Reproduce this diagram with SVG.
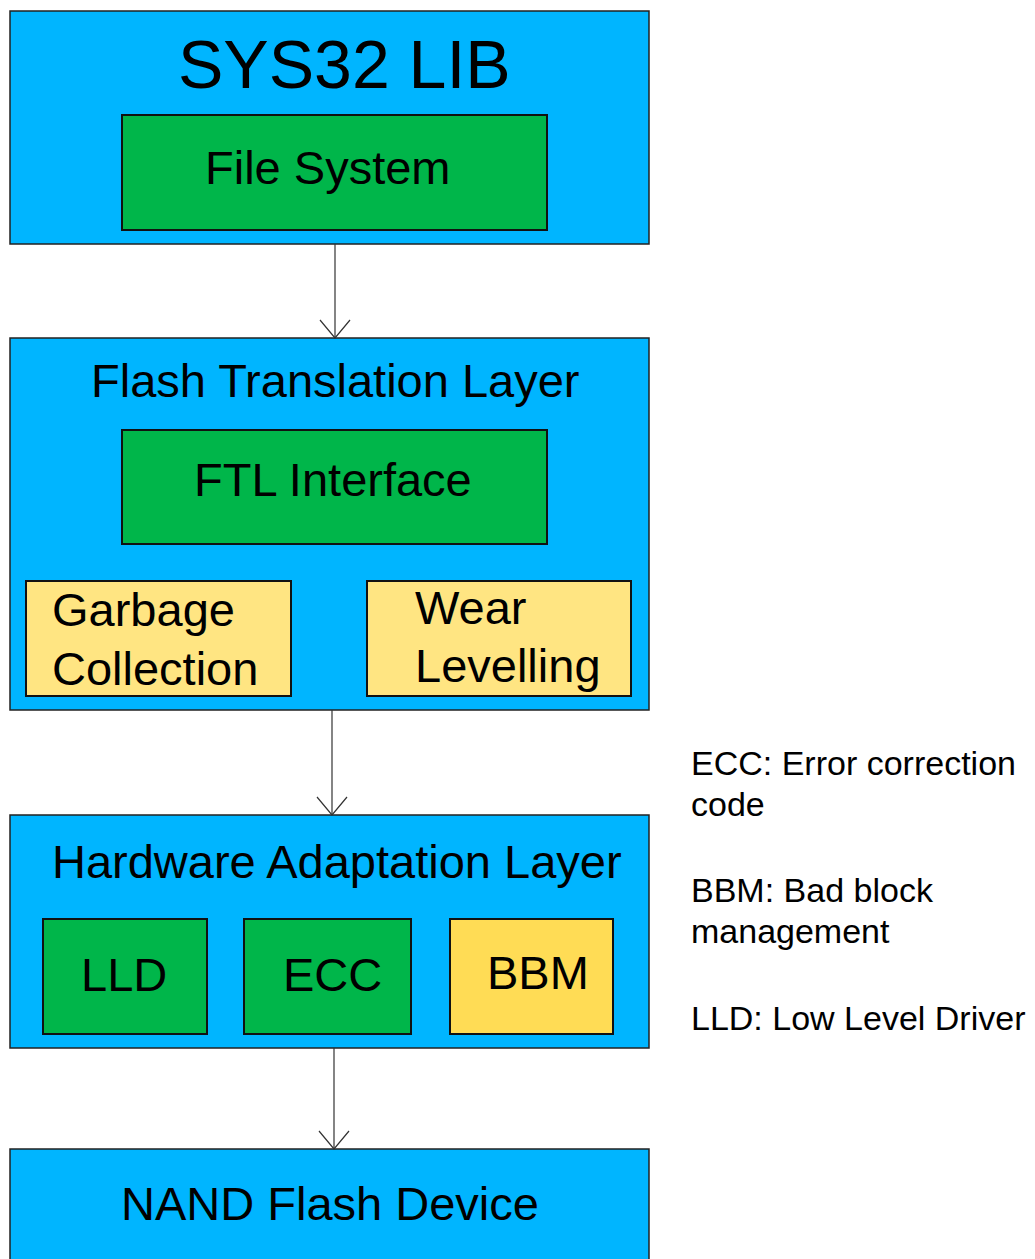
<svg xmlns="http://www.w3.org/2000/svg" width="1035" height="1259" viewBox="0 0 1035 1259">
  <style>
    .layer { fill: #00B5FF; stroke: #222; stroke-width: 1.5; }
    .green { fill: #00B64A; stroke: #111; stroke-width: 2; }
    .pale { fill: #FFE582; stroke: #111; stroke-width: 2; }
    .gold { fill: #FFDC55; stroke: #111; stroke-width: 2; }
    text { font-family: "Liberation Sans", Arial, sans-serif; fill: #000; }
    .t46 { font-size: 47px; }
    .t68 { font-size: 68px; }
    .note { font-size: 34px; }
    .wire { fill: none; stroke: #333; stroke-width: 1.2; }
  </style>
  <defs>
    <marker id="open-head" viewBox="0 0 32 20" refX="16" refY="19" markerWidth="32" markerHeight="20" markerUnits="userSpaceOnUse" orient="0">
      <path d="M1 1 L16 19 L31 1" fill="none" stroke="#333" stroke-width="1.2"/>
    </marker>
  </defs>

  <rect width="1035" height="1259" fill="#fff"/>

  <!-- Top layer: system library -->
  <g id="sys32-lib">
    <rect class="layer" x="10" y="11" width="639" height="233"/>
    <text class="t68" x="178" y="88">SYS32 LIB</text>
  </g>
  <g id="file-system">
    <rect class="green" x="122" y="115" width="425" height="115"/>
    <text class="t46" x="205" y="184">File System</text>
  </g>

  <!-- Flash translation layer -->
  <g id="ftl">
    <rect class="layer" x="10" y="338" width="639" height="372"/>
    <text class="t46" x="91" y="397">Flash Translation Layer</text>
  </g>
  <g id="ftl-interface">
    <rect class="green" x="122" y="430" width="425" height="114"/>
    <text class="t46" x="194" y="496">FTL Interface</text>
  </g>
  <g id="garbage-collection">
    <rect class="pale" x="26" y="581" width="265" height="115"/>
    <text class="t46" x="52" y="626">Garbage</text>
    <text class="t46" x="52" y="685">Collection</text>
  </g>
  <g id="wear-levelling">
    <rect class="pale" x="367" y="581" width="264" height="115"/>
    <text class="t46" x="415" y="624">Wear</text>
    <text class="t46" x="415" y="682">Levelling</text>
  </g>

  <!-- Hardware adaptation layer -->
  <g id="hal">
    <rect class="layer" x="10" y="815" width="639" height="233"/>
    <text class="t46" x="52" y="878">Hardware Adaptation Layer</text>
  </g>
  <g id="lld">
    <rect class="green" x="43" y="919" width="164" height="115"/>
    <text class="t46" x="81" y="991">LLD</text>
  </g>
  <g id="ecc">
    <rect class="green" x="244" y="919" width="167" height="115"/>
    <text class="t46" x="283" y="991">ECC</text>
  </g>
  <g id="bbm">
    <rect class="gold" x="450" y="919" width="163" height="115"/>
    <text class="t46" x="487" y="989">BBM</text>
  </g>

  <!-- Device -->
  <g id="nand-device">
    <rect class="layer" x="10" y="1149" width="639" height="120"/>
    <text class="t46" x="121" y="1220">NAND Flash Device</text>
  </g>

  <!-- Abbreviation notes -->
  <g id="legend">
    <text class="note" x="691" y="775">ECC: Error correction</text>
    <text class="note" x="691" y="816">code</text>
    <text class="note" x="691" y="902">BBM: Bad block</text>
    <text class="note" x="691" y="943">management</text>
    <text class="note" x="691" y="1030">LLD: Low Level Driver</text>
  </g>

  <!-- Connectors between layers -->
  <g id="connectors">
    <line class="wire" x1="335" y1="244" x2="335" y2="338" marker-end="url(#open-head)"/>
    <line class="wire" x1="332" y1="710" x2="332" y2="815" marker-end="url(#open-head)"/>
    <line class="wire" x1="334" y1="1048" x2="334" y2="1149" marker-end="url(#open-head)"/>
  </g>
</svg>
